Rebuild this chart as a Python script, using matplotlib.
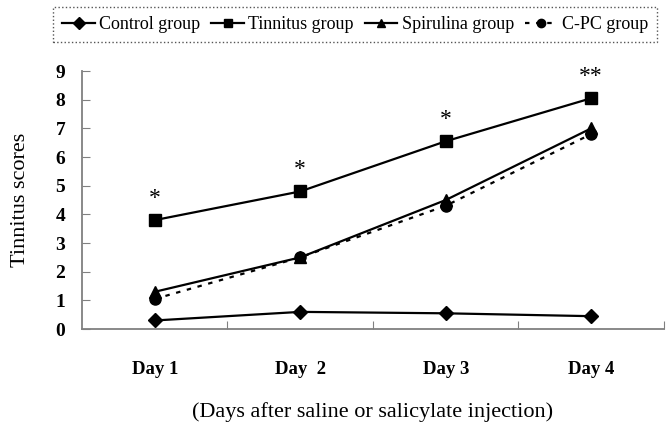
import numpy as np
import matplotlib.pyplot as plt

days = ['Day 1', 'Day  2', 'Day 3', 'Day 4']
control = [0.3, 0.6, 0.55, 0.45]
tinnitus = [3.8, 4.8, 6.55, 8.05]
spirulina = [1.3, 2.5, 4.5, 7.0]
cpc = [1.05, 2.5, 4.3, 6.8]
stars = ['*', '*', '*', '**']

plt.rcParams['font.family'] = ['Liberation Serif', 'DejaVu Serif']

fig = plt.figure(figsize=(6.72, 4.33), dpi=100)
ax = fig.add_axes([0.122, 0.240, 0.866, 0.596])

x = np.arange(len(days)) + 0.5
ax.plot(x, control, color='black', lw=1.6, marker='D', ms=7, label='Control group')
ax.plot(x, tinnitus, color='black', lw=1.6, marker='s', ms=9, label='Tinnitus group')
ax.plot(x, spirulina, color='black', lw=1.6, marker='^', ms=9, label='Spirulina group')
ax.plot(x, cpc, color='black', lw=1.6, ls=(0, (2, 3)), marker='o', ms=8, label='C-PC group')

# significance marks above the tinnitus group
for xi, yi, s in zip(x, tinnitus, stars):
    ax.text(xi, yi + 0.75, s, ha='center', va='center', fontsize=17)

ax.set_xlim(0, 4)
ax.set_ylim(0, 9)
ax.set_yticks(range(10))
ax.set_xticks([1, 2, 3, 4])
ax.set_xticklabels([])
ax.set_xticks(x, minor=True)
ax.set_xticklabels(days, minor=True, fontsize=13.5, fontweight='bold')
ax.tick_params(axis='x', which='minor', length=0, pad=23)
ax.tick_params(axis='x', which='major', direction='in', length=6, color='#808080')
ax.tick_params(axis='y', direction='in', length=6, color='#808080', labelsize=14, pad=12)
for lbl in ax.get_yticklabels():
    lbl.set_fontweight('bold')

for side in ['top', 'right']:
    ax.spines[side].set_visible(False)
for side in ['left', 'bottom']:
    ax.spines[side].set_color('#808080')
    ax.spines[side].set_linewidth(1.3)

ax.set_ylabel('Tinnitus scores', fontsize=16, labelpad=18)
ax.set_xlabel('(Days after saline or salicylate injection)', fontsize=16, labelpad=17)

leg = fig.legend(loc='upper left', bbox_to_anchor=(0.074, 0.992), ncol=4, fontsize=13,
                 handlelength=1.8, columnspacing=0.6, handletextpad=0.25,
                 borderpad=0.5, borderaxespad=0.2, fancybox=False, framealpha=1)
leg.get_frame().set_edgecolor('#555555')
leg.get_frame().set_linestyle(':')
leg.get_frame().set_linewidth(1.0)
for h in leg.legend_handles:
    h.set_markersize(6)

fig.savefig('out.png', dpi=100)
